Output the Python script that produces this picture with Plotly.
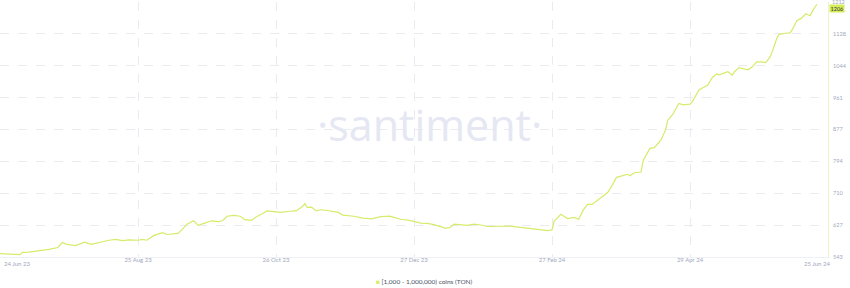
import pandas as pd
import plotly.graph_objects as go

start_date = "2023-06-24"
days_since_start = [
    0, 9, 10, 13, 22, 26, 28, 30, 34, 38, 41, 45, 49, 52, 55, 58, 62, 64, 66, 69,
    73, 75, 80, 82, 84, 87, 89, 92, 95, 98, 100, 102, 105, 108, 110, 113, 115, 118, 120, 123,
    126, 130, 133, 136, 137, 138, 140, 142, 144, 147, 152, 154, 159, 163, 167, 171, 175, 177, 180, 184,
    189, 192, 195, 200, 202, 204, 210, 213, 216, 219, 225, 229, 232, 237, 241, 246, 248, 249, 252, 255,
    258, 260, 262, 264, 266, 268, 270, 273, 275, 277, 279, 282, 283, 285, 288, 289, 292, 294, 297, 299,
    300, 302, 305, 307, 310, 311, 314, 316, 318, 320, 322, 323, 327, 329, 330, 332, 335, 336, 338, 340,
    342, 344, 346, 347, 349, 350, 353, 355, 356, 358, 360, 362, 364, 365, 367,
]
holders = [
    552, 549, 555, 556, 563, 568, 581, 576, 573, 582, 576, 582, 587, 589, 586, 588, 587, 589, 587, 599,
    607, 602, 605, 616, 629, 638, 626, 632, 638, 636, 638, 650, 652, 650, 641, 639, 648, 657, 664, 662,
    660, 663, 664, 676, 683, 673, 674, 664, 667, 665, 660, 653, 650, 645, 643, 649, 650, 647, 642, 639,
    632, 631, 628, 619, 620, 629, 626, 629, 627, 623, 624, 624, 622, 619, 615, 612, 614, 637, 655, 644,
    647, 642, 666, 681, 681, 690, 701, 712, 731, 752, 755, 760, 756, 764, 766, 797, 828, 830, 850, 876,
    902, 915, 946, 942, 944, 950, 981, 988, 994, 1014, 1023, 1021, 1029, 1020, 1029, 1040, 1035, 1034, 1042, 1055,
    1055, 1053, 1068, 1082, 1117, 1127, 1130, 1131, 1140, 1163, 1169, 1181, 1176, 1188, 1206,
]
y_tick_values = [543, 626.625, 710.25, 793.875, 877.5, 961.125, 1044.75, 1128.375, 1212]
y_tick_labels = ["543", "627", "710", "794", "877", "961", "1044", "1128", "1212"]
x_grid_dates = ["2023-08-25", "2023-10-26", "2023-12-27", "2024-02-27", "2024-04-29"]
x_grid_labels = ["25 Aug 23", "26 Oct 23", "27 Dec 23", "27 Feb 24", "29 Apr 24"]
first_label, last_label = "24 Jun 23", "25 Jun 24"
series_name = "[1,000 - 1,000,000) coins (TON)"
last_value_label = "1206"

dates = pd.Timestamp(start_date) + pd.to_timedelta(days_since_start, unit="D")
x_end = pd.Timestamp(start_date) + pd.Timedelta(days=372)

LINE = "#d8ea6a"
TICK = "#a0a8bd"
GRID = "#e9ebf1"
FONT = "Lato"

fig = go.Figure()
fig.add_trace(go.Scatter(x=dates, y=holders, mode="lines",
                         line=dict(color=LINE, width=1.2), showlegend=False,
                         hoverinfo="skip"))

fig.update_layout(
    width=850, height=288,
    margin=dict(l=0, r=22, t=2, b=31),
    paper_bgcolor="white", plot_bgcolor="white",
    font=dict(family=FONT, size=6, color=TICK),
    xaxis=dict(range=[pd.Timestamp(start_date), x_end],
               tickvals=pd.to_datetime(x_grid_dates), ticktext=x_grid_labels,
               showgrid=True, gridcolor=GRID, griddash="dash", gridwidth=1,
               showline=True, linecolor="#eef0f5", linewidth=1,
               zeroline=False, ticks="", ticklabelstandoff=-3,
               tickfont=dict(size=6, color=TICK)),
    yaxis=dict(range=[543, 1212], side="right",
               tickvals=y_tick_values, ticktext=y_tick_labels[:-1] + [""],
               showgrid=True, gridcolor=GRID, griddash="dash", gridwidth=1,
               showline=True, linecolor="#eef5c4", linewidth=1,
               zeroline=False, ticks="", ticklabelstandoff=3,
               tickfont=dict(size=5.5, color=TICK)),
)

fig.add_annotation(text="·santiment·", x=0.519, y=0.52, xref="paper", yref="paper",
                   showarrow=False, font=dict(family="Open Sans", size=43, color="#e5e7f2"))

fig.add_annotation(text=first_label, x=pd.Timestamp(start_date), y=0, xref="x", yref="paper",
                   xanchor="left", yanchor="top", yshift=-1, xshift=2, showarrow=False,
                   font=dict(size=6, color=TICK))
fig.add_annotation(text=last_label, x=pd.Timestamp("2024-06-25"), y=0, xref="x", yref="paper",
                   xanchor="center", yanchor="top", yshift=-1, showarrow=False,
                   font=dict(size=6, color=TICK))

fig.add_annotation(text=y_tick_labels[-1], x=1, y=y_tick_values[-1], xref="paper", yref="y",
                   xanchor="left", yanchor="middle", xshift=3, yshift=0, showarrow=False,
                   borderpad=0, font=dict(size=5.5, color=TICK))

fig.add_annotation(text=last_value_label, x=1, y=holders[-1], xref="paper", yref="y",
                   xanchor="left", yanchor="middle", xshift=1, yshift=-4, showarrow=False,
                   bgcolor="#d6ec5a", borderpad=0.5,
                   font=dict(size=5.5, color="#2f3440"))

fig.add_annotation(text=f"<span style='color:{LINE}'>■</span> {series_name}",
                   x=0.513, y=-0.075, xref="paper", yref="paper",
                   xanchor="center", yanchor="top", showarrow=False,
                   font=dict(family=FONT, size=6.5, color="#4a5266"))

fig.write_html("out.html")
